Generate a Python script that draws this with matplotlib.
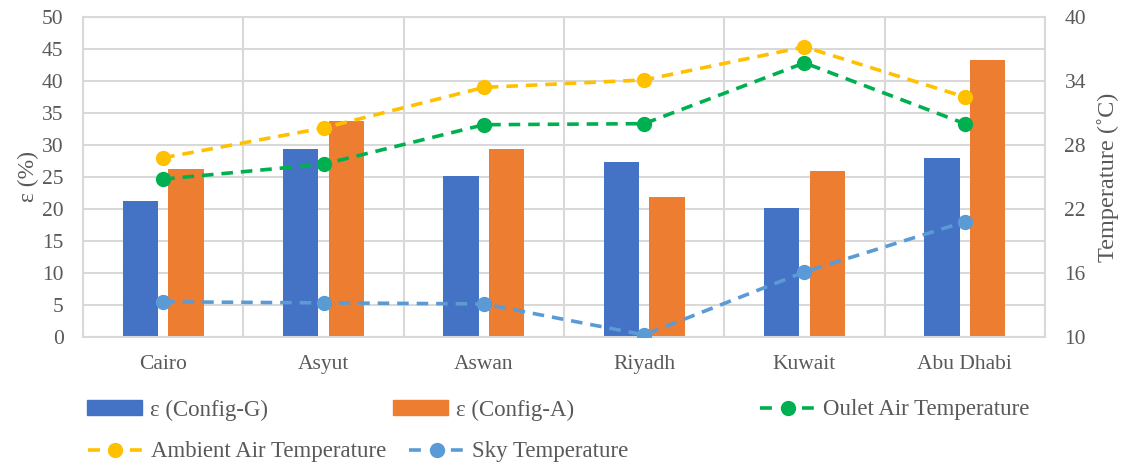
import numpy as np
import matplotlib
matplotlib.use('Agg')
import matplotlib.pyplot as plt
from matplotlib.patches import Patch
from matplotlib.lines import Line2D

cities = ["Cairo", "Asyut", "Aswan", "Riyadh", "Kuwait", "Abu Dhabi"]
eps_config_g = [21.2, 29.3, 25.1, 27.4, 20.2, 28.0]
eps_config_a = [26.3, 33.8, 29.3, 21.8, 26.0, 43.3]
outlet_temp = [24.8, 26.2, 29.9, 30.0, 35.7, 30.0]
ambient_temp = [26.8, 29.6, 33.4, 34.1, 37.2, 32.5]
sky_temp = [13.3, 13.2, 13.1, 10.2, 16.1, 20.8]

left_ticks = list(range(0, 51, 5))
right_ticks = [10, 16, 22, 28, 34, 40]

plt.rcParams['font.family'] = ['Liberation Serif', 'DejaVu Serif']
TXT = '#595959'
GRID = '#D9D9D9'
BLUE, ORANGE = '#4472C4', '#ED7D31'
GREEN, YELLOW, SKY = '#00B050', '#FFC000', '#5B9BD5'

W, H = 1133, 468
fig = plt.figure(figsize=(W / 100, H / 100), dpi=100)
ax = fig.add_axes([83 / W, 1 - 337 / H, (1045 - 83) / W, (337 - 17) / H])

x = np.arange(len(cities))
bw = 0.22
ax.bar(x - 0.143, eps_config_g, bw, color=BLUE, zorder=2)
ax.bar(x + 0.143, eps_config_a, bw, color=ORANGE, zorder=2)

ax.set_xlim(-0.5, len(cities) - 0.5)
ax.set_ylim(0, 50)
ax.set_yticks(left_ticks)
ax.set_xticks(x)
ax.set_xticklabels(cities)
ax.set_xticks(np.arange(-0.5, len(cities)), minor=True)
ax.grid(True, axis='y', color=GRID, lw=1.5, zorder=0)
ax.grid(True, axis='x', which='minor', color=GRID, lw=1.5, zorder=0)
ax.tick_params(axis='both', which='both', length=0, labelsize=15.5, colors=TXT)
ax.tick_params(axis='x', pad=13)
ax.tick_params(axis='y', pad=14)
for s in ax.spines.values():
    s.set_color(GRID)
    s.set_linewidth(1.5)
ax.set_ylabel("ε (%)", fontsize=17, color=TXT, labelpad=2)

ax2 = ax.twinx()
ls = dict(ls=(0, (3.2, 2.2)), lw=2.6, marker='o', ms=10, zorder=3)
ax2.plot(x, outlet_temp, color=GREEN, **ls)
ax2.plot(x, ambient_temp, color=YELLOW, **ls)
ax2.plot(x, sky_temp, color=SKY, **ls)
ax2.set_ylim(10, 40)
ax2.set_yticks(right_ticks)
ax2.tick_params(axis='y', length=0, labelsize=15.5, colors=TXT, pad=14)
for s in ax2.spines.values():
    s.set_visible(False)
ax2.set_ylabel("Temperature (˚C)", fontsize=17.5, color=TXT, labelpad=8)

# legend entries placed like the Excel layout (two uneven rows)
def line_handle(c):
    return Line2D([], [], color=c, ls=(0, (3.3, 2.5)), lw=2.6, marker='o', ms=10)

entries = [
    (Patch(color=BLUE), "ε (Config-G)", 87, 410),
    (Patch(color=ORANGE), "ε (Config-A)", 393, 410),
    (line_handle(GREEN), "Oulet Air Temperature", 760, 410),
    (line_handle(YELLOW), "Ambient Air Temperature", 88, 452),
    (line_handle(SKY), "Sky Temperature", 409, 452),
]
for h, lab, px, py in entries:
    fig.legend([h], [lab], loc='center left', bbox_to_anchor=(px / W, 1 - py / H),
               frameon=False, fontsize=16.5, labelcolor=TXT, handlelength=2.4,
               handleheight=0.6, handletextpad=0.35, borderpad=0, borderaxespad=0)

fig.savefig("out.png", dpi=100)
